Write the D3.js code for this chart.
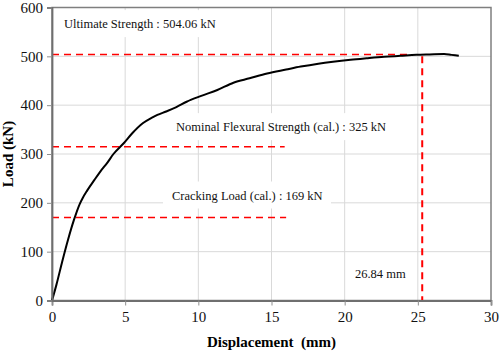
<!DOCTYPE html>
<html>
<head>
<meta charset="utf-8">
<script src="https://cdn.jsdelivr.net/npm/d3@7"></script>
<style>
  body { margin: 0; background: #fff; }
</style>
</head>
<body>
<svg width="500" height="354"></svg>
<script>
// Data
var disp = [0, 0.3, 0.7, 1.1, 1.5, 1.9, 2.1, 2.4, 2.9, 3.3, 3.8, 4.2, 4.9, 5.5, 6.2, 6.8, 7.2, 7.8, 8.5, 9.2, 10.2, 11.3, 12.4, 13.5, 14.7, 16.0, 17.0, 18.2, 19.2, 20.4, 21.5, 22.7, 23.8, 24.9, 25.8, 26.8, 27.3, 27.8];
var load = [0, 32, 80, 125, 165, 198, 210, 225, 247, 264, 283, 300, 322, 343, 363, 374, 380, 387, 396, 407, 419, 431, 446, 455, 465, 473, 479, 485, 489, 493, 496, 499, 501, 503, 504, 505, 503, 501];

var xTicks = [0, 5, 10, 15, 20, 25, 30];
var yTicks = [0, 100, 200, 300, 400, 500, 600];

// reference lines: [value, from, to]
var hLines = [[504, 0, 24.5], [315, 0, 15.9], [170, 0, 16]];
var vLines = [[25.3, 500, 0]];

var labels = [
  {text: "Ultimate Strength : 504.06 kN", x: 0.82, y: 566, w: 152},
  {text: "Nominal Flexural Strength (cal.) : 325 kN", x: 8.48, y: 355, w: 210},
  {text: "Cracking Load (cal.) : 169 kN", x: 8.2, y: 215, w: 150},
  {text: "26.84 mm", x: 20.7, y: 54, w: 50}
];

var serif = "Liberation Serif, Tinos, Times New Roman, DejaVu Serif, serif";

var svg = d3.select("svg"),
    margin = {top: 7.5, right: 9, bottom: 53.5, left: 52},
    width = +svg.attr("width") - margin.left - margin.right,
    height = +svg.attr("height") - margin.top - margin.bottom;

var x = d3.scaleLinear().domain([0, 30]).range([0, width]);
var y = d3.scaleLinear().domain([0, 600]).range([height, 0]);

var g = svg.append("g").attr("transform", "translate(" + margin.left + "," + margin.top + ")");

// grid
g.selectAll(".vgrid").data(xTicks.slice(1, -1)).enter().append("line")
    .attr("x1", d => x(d)).attr("x2", d => x(d))
    .attr("y1", 0).attr("y2", height)
    .attr("stroke", "#d9d9d9").attr("stroke-width", 1);
g.selectAll(".hgrid").data(yTicks.slice(1, -1)).enter().append("line")
    .attr("x1", 0).attr("x2", width)
    .attr("y1", d => y(d)).attr("y2", d => y(d))
    .attr("stroke", "#d9d9d9").attr("stroke-width", 1);

// label boxes hide the grid
var lab = g.selectAll(".lab").data(labels).enter().append("g");
lab.append("rect")
    .attr("x", d => x(d.x) - 9).attr("y", d => y(d.y) - 14)
    .attr("width", d => d.w + 18).attr("height", 27)
    .attr("fill", "#fff");
lab.append("text")
    .attr("x", d => x(d.x)).attr("y", d => y(d.y) + 4)
    .attr("font-family", serif).attr("font-size", 12.5).attr("fill", "#111")
    .text(d => d.text);

// plot border (top/right)
g.append("rect").attr("x", 0).attr("y", 0).attr("width", width).attr("height", height)
    .attr("fill", "none").attr("stroke", "#7f7f7f").attr("stroke-width", 1.5);

// dashed reference lines
g.selectAll(".hl").data(hLines).enter().append("line")
    .attr("x1", d => x(d[1])).attr("x2", d => x(d[2]))
    .attr("y1", d => y(d[0])).attr("y2", d => y(d[0]))
    .attr("stroke", "#ff0000").attr("stroke-width", 1.5).attr("stroke-dasharray", "7,5");
g.selectAll(".vl").data(vLines).enter().append("line")
    .attr("x1", d => x(d[0])).attr("x2", d => x(d[0]))
    .attr("y1", d => y(d[1])).attr("y2", d => y(d[2]))
    .attr("stroke", "#ff0000").attr("stroke-width", 2).attr("stroke-dasharray", "7,5");

// curve
var pts = disp.map((d, i) => [d, load[i]]);
g.append("path").datum(pts)
    .attr("fill", "none").attr("stroke", "#000").attr("stroke-width", 2)
    .attr("d", d3.line().x(d => x(d[0])).y(d => y(d[1])).curve(d3.curveMonotoneX));

// axes
var xAxis = g.append("g").attr("transform", "translate(0," + height + ")")
    .call(d3.axisBottom(x).tickValues(xTicks).tickSize(5).tickPadding(6));
var yAxis = g.append("g")
    .call(d3.axisLeft(y).tickValues(yTicks).tickSize(5).tickPadding(4));
[xAxis, yAxis].forEach(function (a) {
    a.attr("font-family", serif).attr("font-size", 15);
    a.select(".domain").attr("stroke", "#6f6f6f").attr("stroke-width", 1.8);
    a.selectAll(".tick line").attr("stroke", "#8f8f8f");
    a.selectAll(".tick text").attr("fill", "#111");
});

// titles
svg.append("text")
    .attr("transform", "translate(13," + (margin.top + height / 2) + ") rotate(-90)")
    .attr("text-anchor", "middle").attr("font-family", serif)
    .attr("font-weight", "bold").attr("font-size", 15)
    .text("Load (kN)");
svg.append("text")
    .attr("x", margin.left + x(15)).attr("y", 347)
    .attr("text-anchor", "middle").attr("font-family", serif)
    .attr("font-weight", "bold").attr("font-size", 15)
    .attr("xml:space", "preserve")
    .text("Displacement  (mm)");
</script>
</body>
</html>
